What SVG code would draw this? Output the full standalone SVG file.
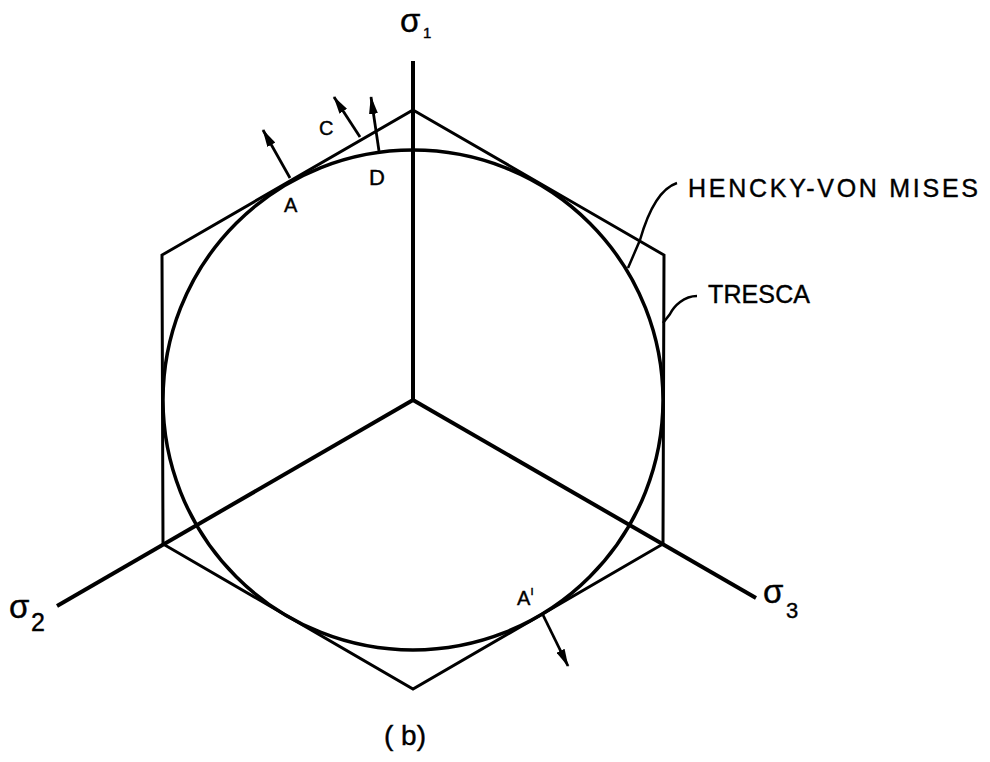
<svg xmlns="http://www.w3.org/2000/svg" width="990" height="762" viewBox="0 0 990 762">
<style>
.ax{stroke:#000;stroke-width:4;fill:none;stroke-linecap:butt}
.hex{stroke:#000;stroke-width:3;fill:none;stroke-linejoin:miter}
.circ{stroke:#000;stroke-width:3.5;fill:none}
.arr{stroke:#000;stroke-width:2.8;fill:none}
.lead{stroke:#000;stroke-width:2.5;fill:none}
text{font-family:"Liberation Sans","DejaVu Sans",sans-serif;fill:#000;stroke:#000;stroke-width:0.4}
.lbl{font-size:20px}
.sig{font-size:33px}
.sub{font-size:22px}
.note{font-size:25px}
</style>
<defs>
<marker id="ah" viewBox="0 0 18 9" refX="17" refY="4.5" markerWidth="18" markerHeight="9" markerUnits="userSpaceOnUse" orient="auto">
<path d="M0,0 L18,4.5 L0,9 z" fill="#000"/>
</marker>
</defs>
<rect width="990" height="762" fill="#fff" stroke="none"/>
<g id="axes">
<line class="ax" x1="413" y1="61" x2="413" y2="400"/>
<line class="ax" x1="413" y1="400" x2="57" y2="606"/>
<line class="ax" x1="413" y1="400" x2="756" y2="598"/>
</g>
<g id="tresca">
<polygon class="hex" points="413,110 664,255 663,544 413,689 163,544 162,255"/>
</g>
<g id="hencky-von-mises">
<circle class="circ" cx="413" cy="400" r="250"/>
</g>
<g id="connectors">
<line class="arr" x1="290" y1="178" x2="263" y2="130" marker-end="url(#ah)"/>
<line class="arr" x1="360" y1="137" x2="334" y2="97" marker-end="url(#ah)"/>
<line class="arr" x1="379" y1="151" x2="371" y2="97" marker-end="url(#ah)"/>
<line class="arr" x1="543" y1="615" x2="568" y2="666" marker-end="url(#ah)"/>
<path class="lead" d="M677,183 C662,188 650,205 640,240 L628,268"/>
<path class="lead" d="M697,296 C684,296 674,306 670,314 L663,323"/>
</g>
<g id="labels">
<text class="sig" x="400" y="32">σ</text><text x="423" y="38" style="font-size:15px">1</text>
<text class="sig" x="9" y="618">σ</text><text class="sub" x="31" y="631" style="font-size:25px">2</text>
<text class="sig" x="763" y="603">σ</text><text class="sub" x="786" y="618">3</text>
<text class="lbl" x="284" y="212">A</text>
<text class="lbl" x="319" y="135">C</text>
<text class="lbl" x="369" y="185" style="font-size:22px">D</text>
<text class="lbl" x="517" y="605">A<tspan dy="-10" font-size="13">ı</tspan></text>
<text class="note" x="688" y="197" textLength="290" lengthAdjust="spacing">HENCKY-VON  MISES</text>
<text class="note" x="708" y="303" textLength="102" lengthAdjust="spacing">TRESCA</text>
<text x="384" y="745" style="font-size:28px">( b)</text>
</g>
</svg>
